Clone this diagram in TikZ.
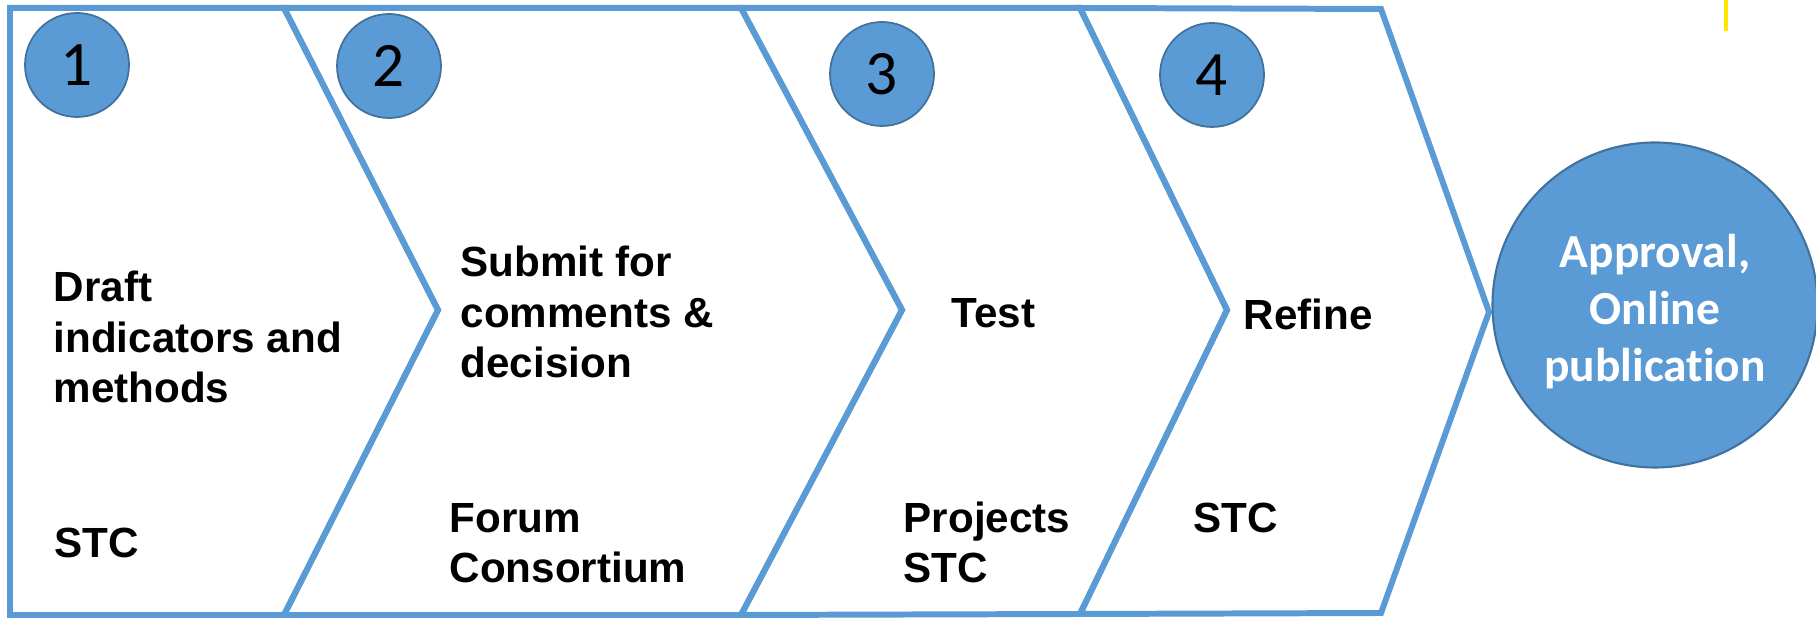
\documentclass[tikz,border=0pt]{standalone}
\usepackage{fontspec}
\setmainfont{Liberation Sans}
\newfontfamily\carlito[Ligatures=NoCommon]{Carlito}
\usepackage{xcolor}
\usepackage{tikz}
\usetikzlibrary{positioning, calc}

\definecolor{stepblue}{RGB}{91,155,213}
\definecolor{stepedge}{RGB}{65,113,156}
\definecolor{markyellow}{RGB}{255,230,0}

\begin{document}
\begin{tikzpicture}[
    chevron/.style={draw=stepblue, line width=1.7pt, line join=miter},
    numcircle/.style={circle, draw=stepedge, line width=0.5pt, fill=stepblue, minimum size=1.04cm, inner sep=0pt, font=\carlito\fontsize{18}{18}\selectfont},
    steptext/.style={anchor=base west, inner sep=0pt, align=left, font=\bfseries\fontsize{12}{14.4}\selectfont}
]
    \useasboundingbox (0,0) rectangle (18.16,-6.22);

    % corners of the chevrons
    \coordinate (t0) at (0.10,-0.08);
    \coordinate (t1) at (2.84,-0.08);
    \coordinate (t2) at (7.41,-0.08);
    \coordinate (t3) at (10.80,-0.08);
    \coordinate (t4) at (13.81,-0.09);
    \coordinate (b0) at (0.10,-6.15);
    \coordinate (b1) at (2.84,-6.15);
    \coordinate (b2) at (7.41,-6.15);
    \coordinate (b3) at (10.80,-6.14);
    \coordinate (b4) at (13.81,-6.13);
    \coordinate (p1) at (4.38,-3.10);
    \coordinate (p2) at (9.02,-3.10);
    \coordinate (p3) at (12.27,-3.10);
    \coordinate (p4) at (14.89,-3.12);

    % Chevrons
    \draw[chevron] (t0) -- (t1) -- (p1) -- (b1) -- (b0) -- cycle;
    \draw[chevron] (t1) -- (t2) -- (p2) -- (b2) -- (b1) -- (p1) -- cycle;
    \draw[chevron] (t2) -- (t3) -- (p3) -- (b3) -- (b2) -- (p2) -- cycle;
    \draw[chevron] (t3) -- (t4) -- (p4) -- (b4) -- (b3) -- (p3) -- cycle;

    % Step numbers
    \node[numcircle] (n1) at (0.77,-0.65) {1};
    \node[numcircle] (n2) at (3.89,-0.66) {2};
    \node[numcircle] (n3) at (8.82,-0.74) {3};
    \node[numcircle] (n4) at (12.12,-0.75) {4};

    % Step texts (base = last line)
    \node[steptext] (draft) at (0.53,-4.03) {Draft\\indicators and\\methods};
    \node[steptext] (who1) at (0.54,-5.575) {STC};
    \node[steptext] (submit) at (4.60,-3.78) {Submit for\\comments \&\\decision};
    \node[steptext] (who2) at (4.49,-5.83) {Forum\\Consortium};
    \node[steptext] (test) at (9.51,-3.275) {Test};
    \node[steptext] (who3) at (9.03,-5.83) {Projects\\STC};
    \node[steptext] (refine) at (12.43,-3.295) {Refine};
    \node[steptext] (who4) at (11.93,-5.33) {STC};

    % Final result
    \node[circle, draw=stepedge, line width=0.6pt, fill=stepblue, minimum size=3.25cm, inner sep=0pt]
          (approval) at (16.55,-3.05) {};
    \node[text=white, align=center, inner sep=0pt, font=\carlito\bfseries\fontsize{13.5}{16.2}\selectfont]
          (approvaltext) at ([yshift=-0.07cm]approval.center) {Approval,\\Online\\publication};

    \draw[markyellow, line width=1.4pt] (17.26,0) -- (17.26,-0.31);
\end{tikzpicture}
\end{document}
